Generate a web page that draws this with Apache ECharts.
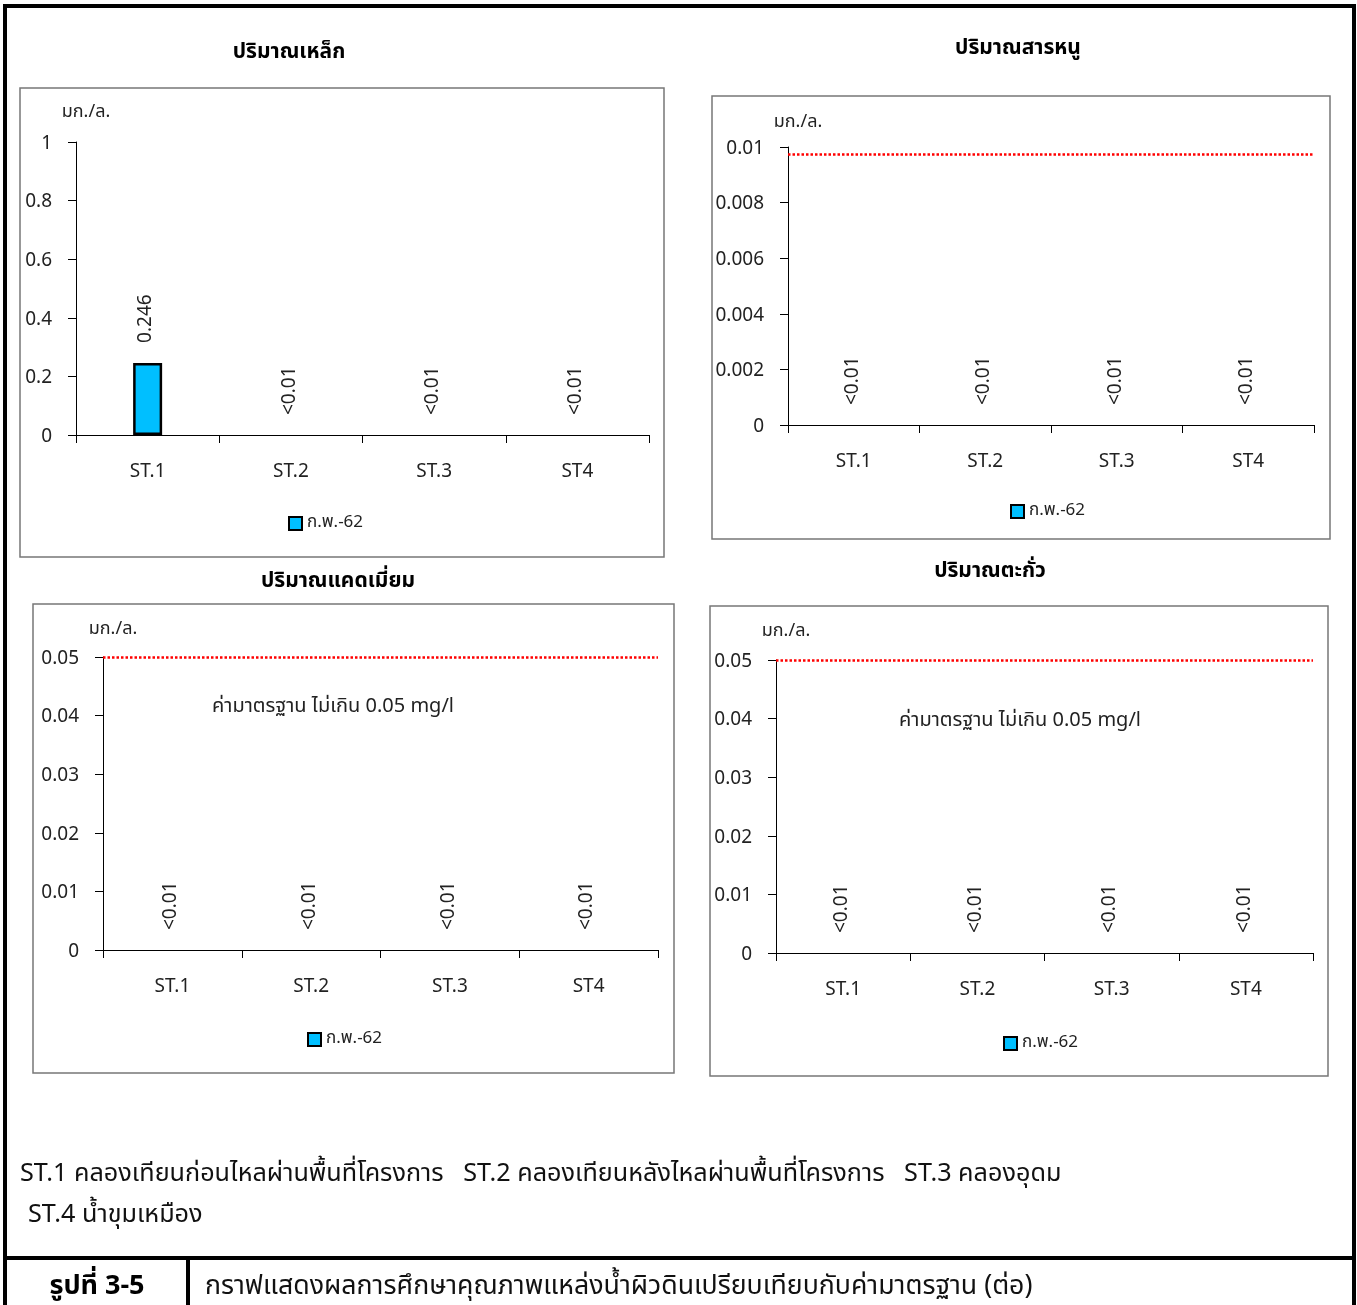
<!DOCTYPE html>
<html>
<head>
<meta charset="utf-8">
<script src="https://cdn.jsdelivr.net/npm/echarts@6/dist/echarts.min.js"></script>
<style>
  html, body { margin: 0; padding: 0; background: #fff; }
  #chart { width: 1357px; height: 1305px; }
</style>
</head>
<body>
<div id="chart"></div>
<script>
// ---------- data ----------
const categories = ['ST.1', 'ST.2', 'ST.3', 'ST4'];
const seriesName = 'ก.พ.-62';
const unitLabel = 'มก./ล.';

const ironValues = [0.246, 0, 0, 0];
const ironLabels = ['0.246', '<0.01', '<0.01', '<0.01'];

const arsenicValues = [0, 0, 0, 0];
const arsenicLabels = ['<0.01', '<0.01', '<0.01', '<0.01'];
const arsenicStandard = 0.00975;

const cadmiumValues = [0, 0, 0, 0];
const cadmiumLabels = ['<0.01', '<0.01', '<0.01', '<0.01'];
const cadmiumStandard = 0.05;

const leadValues = [0, 0, 0, 0];
const leadLabels = ['<0.01', '<0.01', '<0.01', '<0.01'];
const leadStandard = 0.05;

const titles = ['ปริมาณเหล็ก', 'ปริมาณสารหนู', 'ปริมาณแคดเมี่ยม', 'ปริมาณตะกั่ว'];
const standardNote = 'ค่ามาตรฐาน ไม่เกิน 0.05 mg/l';
const footnote1 = 'ST.1 คลองเทียนก่อนไหลผ่านพื้นที่โครงการ   ST.2 คลองเทียนหลังไหลผ่านพื้นที่โครงการ   ST.3 คลองอุดม';
const footnote2 = 'ST.4 น้ำขุมเหมือง';
const figureNo = 'รูปที่ 3-5';
const figureCaption = 'กราฟแสดงผลการศึกษาคุณภาพแหล่งน้ำผิวดินเปรียบเทียบกับค่ามาตรฐาน (ต่อ)';

const yMax = [1, 0.01, 0.05, 0.05];
const yInterval = [0.2, 0.002, 0.01, 0.01];

// ---------- layout ----------
const FONT = "'Noto Sans Thai', 'Noto Sans', 'DejaVu Sans', sans-serif";
const panels = [
  { grid: { left: 76, top: 142, width: 573, height: 293 }, box: [20, 88, 644, 469], title: [289, 51], legend: [288, 515], nameGap: 20 },
  { grid: { left: 788, top: 147, width: 526, height: 278 }, box: [712, 96, 618, 443], title: [1018, 47], legend: [1010, 503], nameGap: 15 },
  { grid: { left: 103, top: 657, width: 555, height: 293 }, box: [33, 604, 641, 469], title: [338, 580], legend: [307, 1031], nameGap: 18, note: [333, 705] },
  { grid: { left: 776, top: 660, width: 537, height: 293 }, box: [710, 606, 618, 470], title: [990, 570], legend: [1003, 1035], nameGap: 19, note: [1020, 719] }
];
const valueSets = [ironValues, arsenicValues, cadmiumValues, leadValues];
const labelSets = [ironLabels, arsenicLabels, cadmiumLabels, leadLabels];
const standards = [null, arsenicStandard, cadmiumStandard, leadStandard];

const chart = echarts.init(document.getElementById('chart'), null, { renderer: 'canvas' });

const grids = [], xAxes = [], yAxes = [], series = [], legends = [], graphics = [];

panels.forEach((p, i) => {
  grids.push(Object.assign({ containLabel: false }, p.grid));
  xAxes.push({
    type: 'category', gridIndex: i, data: categories,
    axisLine: { lineStyle: { color: '#000', width: 1 } },
    axisTick: { show: true, length: 8, lineStyle: { color: '#000' } },
    axisLabel: { color: '#222', fontSize: 19, fontFamily: FONT, margin: 29 },
    splitLine: { show: false }
  });
  yAxes.push({
    type: 'value', gridIndex: i, min: 0, max: yMax[i], interval: yInterval[i],
    name: unitLabel, nameLocation: 'end', nameGap: p.nameGap,
    nameTextStyle: { color: '#222', fontSize: 18, fontFamily: FONT, padding: [0, 0, 0, 20] },
    axisLine: { show: true, lineStyle: { color: '#000', width: 1 } },
    axisTick: { show: true, length: 8, inside: false, lineStyle: { color: '#000' } },
    axisLabel: {
      color: '#222', fontSize: 19, fontFamily: FONT, margin: 24,
      formatter: '{t|{value}}',
      rich: { t: { color: '#222', fontSize: 19, fontFamily: FONT, padding: [6, 0, 0, 0] } }
    },
    splitLine: { show: false }
  });
  const labels = labelSets[i];
  const s = {
    name: seriesName, type: 'bar', xAxisIndex: i, yAxisIndex: i,
    barWidth: 29,
    data: valueSets[i].map(v => v === 0 ? { value: v, itemStyle: { borderWidth: 0 } } : v),
    itemStyle: { color: '#00BFFF', borderColor: '#000', borderWidth: 2.5 },
    label: {
      show: true, position: 'top', rotate: 90, distance: 16,
      align: 'left', verticalAlign: 'middle',
      color: '#222', fontSize: 19, fontFamily: FONT,
      offset: [4, 0],
      formatter: (prm) => labels[prm.dataIndex]
    },
    emphasis: { disabled: true }
  };
  if (standards[i] !== null) {
    s.markLine = {
      silent: true, symbol: 'none', precision: 6, label: { show: false },
      lineStyle: { color: '#FF0000', type: [2.5, 2], width: 2.5 },
      data: [{ yAxis: standards[i] }]
    };
  }
  series.push(s);
  legends.push({
    left: p.legend[0], top: p.legend[1], data: [seriesName], padding: 0,
    itemWidth: 13, itemHeight: 13, itemGap: 5, icon: 'rect',
    textStyle: { color: '#222', fontSize: 17, fontFamily: FONT },
    selectedMode: false
  });
  // panel border
  graphics.push({
    type: 'rect', silent: true, z: -1,
    shape: { x: p.box[0], y: p.box[1], width: p.box[2], height: p.box[3] },
    style: { fill: 'none', stroke: '#777', lineWidth: 1.5 }
  });
  // title
  graphics.push({
    type: 'text', silent: true, x: p.title[0], y: p.title[1] + 3,
    style: { text: titles[i], fill: '#000', font: 'bold 21px ' + FONT, textAlign: 'center', textVerticalAlign: 'middle' }
  });
  if (p.note) {
    graphics.push({
      type: 'text', silent: true, x: p.note[0], y: p.note[1] + 3,
      style: { text: standardNote, fill: '#222', font: '20px ' + FONT, textAlign: 'center', textVerticalAlign: 'middle' }
    });
  }
});

// outer frame and caption row
const frame = [
  [3, 6, 1356, 6],
  [5, 4, 5, 1305],
  [1354, 4, 1354, 1305],
  [3, 1258, 1356, 1258],
  [188, 1258, 188, 1305]
];
frame.forEach(l => graphics.push({
  type: 'line', silent: true,
  shape: { x1: l[0], y1: l[1], x2: l[2], y2: l[3] },
  style: { stroke: '#000', lineWidth: 4 }
}));
graphics.push(
  { type: 'text', silent: true, x: 20, y: 1176, style: { text: footnote1, fill: '#111', font: '25.2px ' + FONT, textAlign: 'left', textVerticalAlign: 'middle' } },
  { type: 'text', silent: true, x: 28, y: 1217, style: { text: footnote2, fill: '#111', font: '25.2px ' + FONT, textAlign: 'left', textVerticalAlign: 'middle' } },
  { type: 'text', silent: true, x: 97, y: 1289, style: { text: figureNo, fill: '#000', font: 'bold 27px ' + FONT, textAlign: 'center', textVerticalAlign: 'middle' } },
  { type: 'text', silent: true, x: 205, y: 1289, style: { text: figureCaption, fill: '#111', font: '26.7px ' + FONT, textAlign: 'left', textVerticalAlign: 'middle' } }
);

chart.setOption({
  animation: false,
  backgroundColor: '#fff',
  grid: grids,
  xAxis: xAxes,
  yAxis: yAxes,
  legend: legends,
  series: series,
  graphic: graphics
});
</script>
</body>
</html>
